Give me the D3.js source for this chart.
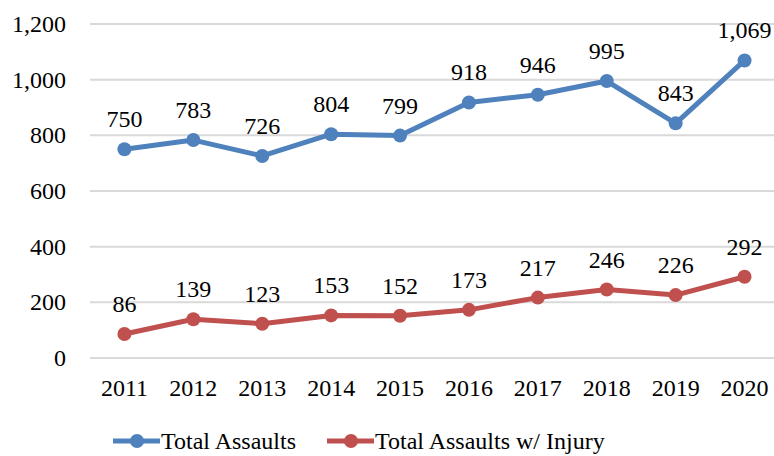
<!DOCTYPE html>
<html>
<head>
<meta charset="utf-8">
<script src="https://cdn.jsdelivr.net/npm/d3@7"></script>
<style>
  body { margin: 0; background: #fff; }
  svg text { font-family: "Liberation Serif", "DejaVu Serif", serif !important; }
</style>
</head>
<body>
<svg width="774" height="456"></svg>
<script>
const years = ['2011', '2012', '2013', '2014', '2015', '2016', '2017', '2018', '2019', '2020']
const totalAssaults = [750, 783, 726, 804, 799, 918, 946, 995, 843, 1069]
const assaultsInjury = [86, 139, 123, 153, 152, 173, 217, 246, 226, 292]
const yTicks = [0, 200, 400, 600, 800, 1000, 1200]
const seriesNames = ['Total Assaults', 'Total Assaults w/ Injury']
const colors = ['#4f81bd', '#c0504d']

const svg = d3.select('svg')
const plotLeft = 90, plotRight = 779, plotTop = 24, plotBottom = 358
const serif = '"Liberation Serif", "DejaVu Serif", serif'

const x = d3.scaleBand().domain(years).range([plotLeft, plotRight])
const y = d3.scaleLinear().domain([0, 1200]).range([plotBottom, plotTop])

// gridlines
svg.append('g')
  .selectAll('line')
  .data(yTicks)
  .enter()
  .append('line')
  .attr('x1', plotLeft)
  .attr('x2', plotRight)
  .attr('y1', d => y(d))
  .attr('y2', d => y(d))
  .attr('stroke', '#d9d9d9')
  .attr('stroke-width', 2)

// y labels
svg.append('g')
  .selectAll('text')
  .data(yTicks)
  .enter()
  .append('text')
  .attr('x', 66)
  .attr('y', d => y(d))
  .attr('dy', '0.34em')
  .attr('text-anchor', 'end')
  .style('font-family', serif)
  .style('font-size', '24px')
  .text(d => d3.format(',')(d))

// x labels
svg.append('g')
  .selectAll('text')
  .data(years)
  .enter()
  .append('text')
  .attr('x', d => x(d) + x.bandwidth() / 2)
  .attr('y', 396)
  .attr('text-anchor', 'middle')
  .style('font-family', serif)
  .style('font-size', '24px')
  .text(d => d)

const cx = d => x(d) + x.bandwidth() / 2
const line = d3.line()
  .x(d => cx(d.year))
  .y(d => y(d.value))

const series = [totalAssaults, assaultsInjury].map((vals, i) => ({
  name: seriesNames[i],
  color: colors[i],
  points: vals.map((v, j) => ({ year: years[j], value: v }))
}))

series.forEach(s => {
  const g = svg.append('g')
  g.append('path')
    .datum(s.points)
    .attr('d', line)
    .attr('fill', 'none')
    .attr('stroke', s.color)
    .attr('stroke-width', 5)
    .attr('stroke-linejoin', 'round')
  g.selectAll('circle')
    .data(s.points)
    .enter()
    .append('circle')
    .attr('cx', d => cx(d.year))
    .attr('cy', d => y(d.value))
    .attr('r', 7)
    .attr('fill', s.color)
  g.selectAll('text')
    .data(s.points)
    .enter()
    .append('text')
    .attr('x', d => cx(d.year))
    .attr('y', d => y(d.value) - 22)
    .attr('text-anchor', 'middle')
    .style('font-family', serif)
    .style('font-size', '24px')
    .text(d => d3.format(',')(d.value))
})

// legend
const legendX = [113, 327]
const legend = svg.append('g')
series.forEach((s, i) => {
  const lx = legendX[i]
  legend.append('line')
    .attr('x1', lx).attr('x2', lx + 47)
    .attr('y1', 441).attr('y2', 441)
    .attr('stroke', s.color)
    .attr('stroke-width', 5)
  legend.append('circle')
    .attr('cx', lx + 24).attr('cy', 441)
    .attr('r', 7)
    .attr('fill', s.color)
  legend.append('text')
    .attr('x', lx + 48)
    .attr('y', 449)
    .style('font-family', serif)
    .style('font-size', '24px')
    .text(s.name)
})
</script>
</body>
</html>
